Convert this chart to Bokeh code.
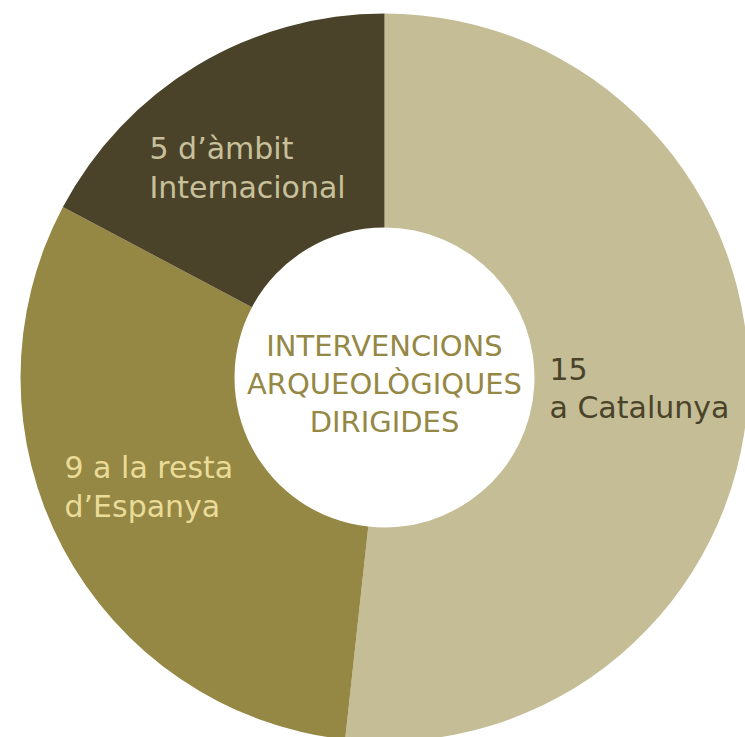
import math
from bokeh.plotting import figure
from bokeh.models import ColumnDataSource
from bokeh.core.properties import value
from bokeh.embed import file_html
from bokeh.resources import INLINE

# Data
categories = ["a Catalunya", "a la resta d'Espanya", "d'àmbit Internacional"]
counts = [15, 9, 5]
colors = ["#C4BD95", "#958744", "#4A4329"]
label_lines = [["15", "a Catalunya"], ["9 a la resta", "d\u2019Espanya"], ["5 d\u2019àmbit", "Internacional"]]
label_colors = ["#4A4329", "#EADC98", "#C8C09A"]
title_lines = ["INTERVENCIONS", "ARQUEOLÒGIQUES", "DIRIGIDES"]

# layout (pixel-like units, center of donut at 0,0)
W, H = 745, 737
cx_pix, cy_pix = 384, 377
R_OUT, R_IN = 364, 150
label_pos = [(549 - 384, 377 - 368), (64 - 384, 377 - 467), (149 - 384, 377 - 148)]
LINE_GAP = 39

total = sum(counts)
starts, ends = [], []
acc = 0
for c in counts:
    starts.append(math.pi / 2 - 2 * math.pi * acc / total)
    acc += c
    ends.append(math.pi / 2 - 2 * math.pi * acc / total)

p = figure(width=W, height=H, x_range=(-cx_pix, W - cx_pix), y_range=(-(H - cy_pix), cy_pix),
           output_backend="svg", toolbar_location=None, min_border=0)
p.axis.visible = False
p.grid.visible = False
p.outline_line_color = None
p.background_fill_color = "white"
p.border_fill_color = "white"

src = ColumnDataSource(dict(cat=categories, count=counts, color=colors, start=starts, end=ends))
p.annular_wedge(x=0, y=0, inner_radius=R_IN, outer_radius=R_OUT, start_angle="start", end_angle="end",
                direction="clock", fill_color="color", line_color=None, source=src)

xs, ys, txt, cols = [], [], [], []
for (lx, ly), lines, col in zip(label_pos, label_lines, label_colors):
    for i, t in enumerate(lines):
        xs.append(lx)
        ys.append(ly - i * LINE_GAP)
        txt.append(t)
        cols.append(col)
p.text(x=xs, y=ys, text=txt, text_color=cols, text_font=value("DejaVu Sans"), text_font_size="30px",
       text_align="left", text_baseline="middle")

tx = [0] * len(title_lines)
ty = [377 - 345 - i * 38 for i in range(len(title_lines))]
p.text(x=tx, y=ty, text=title_lines, text_color="#958744", text_font=value("DejaVu Sans"),
       text_font_size="29px", text_align="center", text_baseline="middle")

open("out.html", "w").write(file_html(p, INLINE))
